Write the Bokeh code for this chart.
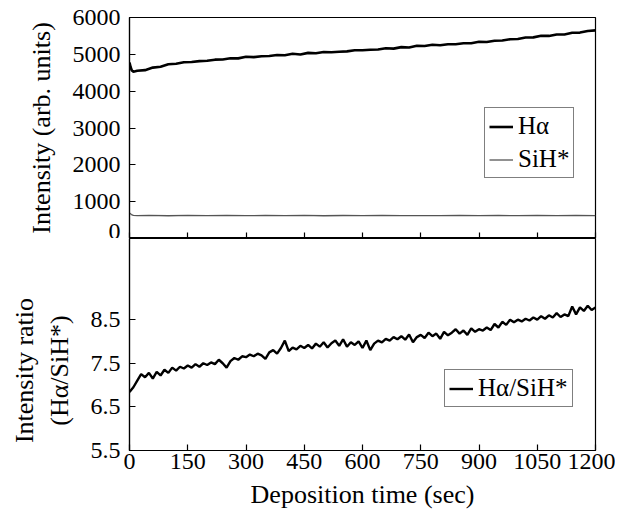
from bokeh.plotting import figure
from bokeh.layouts import column
from bokeh.models import FixedTicker, Range1d, Legend, LegendItem
from bokeh.embed import file_html
from bokeh.resources import INLINE

# ---- data ----
ha_t = [0, 3, 6, 10, 20, 40, 60, 80, 100, 120, 140, 160, 180, 200, 220, 240, 260, 280, 300,
        320, 340, 360, 380, 400, 420, 440, 460, 480, 500, 520, 540, 560, 580, 600, 620, 640,
        660, 680, 700, 720, 740, 760, 780, 800, 820, 840, 860, 880, 900, 920, 940, 960, 980,
        1000, 1020, 1040, 1060, 1080, 1100, 1120, 1140, 1160, 1180, 1200]
ha_v = [4780, 4650, 4560, 4530, 4555, 4570, 4640, 4665, 4730, 4745, 4785, 4790, 4815, 4825,
        4855, 4860, 4895, 4890, 4935, 4925, 4950, 4955, 4980, 4975, 5015, 4995, 5040, 5030,
        5065, 5055, 5070, 5080, 5110, 5110, 5125, 5130, 5165, 5155, 5195, 5185, 5235, 5225,
        5260, 5245, 5275, 5275, 5300, 5300, 5340, 5335, 5370, 5375, 5410, 5415, 5455, 5460,
        5505, 5500, 5540, 5540, 5585, 5590, 5635, 5650]

sih_t = [0, 5, 10, 20, 50, 100, 150, 200, 250, 300, 350, 400, 450, 500, 550, 600, 650, 700,
         750, 800, 850, 900, 950, 1000, 1050, 1100, 1150, 1200]
sih_v = [690, 650, 628, 622, 630, 618, 626, 620, 628, 619, 625, 621, 627, 618, 624, 620, 626,
         619, 623, 621, 627, 619, 624, 620, 626, 621, 624, 622]

ratio_t = list(range(0, 1201, 10))
ratio_v = [6.84, 6.95, 7.10, 7.25, 7.18, 7.28, 7.15, 7.30, 7.22, 7.35, 7.28, 7.40, 7.33, 7.42,
           7.38, 7.45, 7.40, 7.48, 7.42, 7.50, 7.46, 7.52, 7.48, 7.58, 7.50, 7.40, 7.55, 7.62,
           7.58, 7.66, 7.64, 7.70, 7.66, 7.72, 7.68, 7.60, 7.75, 7.80, 7.72, 7.85, 8.02, 7.78,
           7.86, 7.82, 7.90, 7.85, 7.92, 7.84, 7.95, 7.88, 7.98, 7.86, 7.96, 8.02, 7.90, 8.05,
           7.88, 7.98, 7.92, 8.00, 7.85, 8.02, 7.80, 7.95, 8.02, 7.98, 8.06, 8.02, 8.10, 8.05,
           8.12, 8.04, 8.16, 7.98, 8.10, 8.15, 8.08, 8.20, 8.12, 8.18, 8.06, 8.22, 8.14, 8.20,
           8.28, 8.18, 8.25, 8.15, 8.30, 8.22, 8.28, 8.25, 8.32, 8.26, 8.40, 8.32, 8.45, 8.38,
           8.50, 8.44, 8.50, 8.46, 8.52, 8.48, 8.55, 8.50, 8.58, 8.52, 8.60, 8.55, 8.65, 8.56,
           8.62, 8.58, 8.80, 8.62, 8.78, 8.70, 8.82, 8.72, 8.78]

x_ticks = [0, 150, 300, 450, 600, 750, 900, 1050, 1200]
top_ticks = [0, 1000, 2000, 3000, 4000, 5000, 6000]
bot_ticks = [5.5, 6.5, 7.5, 8.5]
bot_max = 10.36  # upper end of the ratio axis (meets the upper panel's 0)

FONT = "Liberation Serif"
TICK_SIZE = "24px"
LABEL_SIZE = "26px"

x_range = Range1d(0, 1200)


def style(p):
    p.outline_line_color = "black"
    p.outline_line_width = 1.2
    p.grid.visible = False
    p.background_fill_color = "white"
    p.border_fill_color = "white"
    for ax in p.axis:
        ax.axis_line_color = "black"
        ax.axis_line_width = 1.2
        ax.major_tick_line_color = "black"
        ax.major_tick_line_width = 1.2
        ax.minor_tick_line_color = None
        ax.major_label_text_font = FONT
        ax.major_label_text_font_size = TICK_SIZE
        ax.major_label_text_color = "black"
        ax.axis_label_text_font = FONT
        ax.axis_label_text_font_size = LABEL_SIZE
        ax.axis_label_text_font_style = "normal"
        ax.axis_label_text_color = "black"
        ax.major_tick_in = 6
        ax.major_tick_out = 0
    for ax in p.yaxis:
        ax.major_label_standoff = 9


# ---- top panel ----
top = figure(frame_width=466, frame_height=221, x_range=x_range, y_range=Range1d(0, 6000),
             output_backend="svg", toolbar_location=None, min_border_left=129,
             min_border_right=20, min_border_top=17, min_border_bottom=0)
style(top)
top.xaxis.ticker = FixedTicker(ticks=x_ticks)
top.xaxis.major_label_text_color = None
top.xaxis.major_label_text_font_size = "0px"
top.xaxis.major_label_standoff = 0
top.yaxis.ticker = FixedTicker(ticks=top_ticks)
top.yaxis.axis_label = "Intensity (arb. units)"
top.yaxis.axis_label_standoff = 14

r_ha = top.line(ha_t, ha_v, line_color="black", line_width=2.6)
r_sih = top.line(sih_t, sih_v, line_color="#555555", line_width=1.3)

leg_top = Legend(items=[LegendItem(label="H\u03b1", renderers=[r_ha]),
                        LegendItem(label="SiH*", renderers=[r_sih])],
                 location=(355, 60))
top.add_layout(leg_top)

# ---- bottom panel ----
bot = figure(frame_width=466, frame_height=212, x_range=x_range, y_range=Range1d(5.5, bot_max),
             output_backend="svg", toolbar_location=None, min_border_left=129,
             min_border_right=20, min_border_top=0, min_border_bottom=52)
style(bot)
bot.xaxis.ticker = FixedTicker(ticks=x_ticks)
bot.xaxis.major_label_standoff = 3
bot.xaxis.axis_label = "Deposition time (sec)"
bot.xaxis.axis_label_standoff = 8
bot.yaxis.ticker = FixedTicker(ticks=bot_ticks)
bot.yaxis.axis_label = "Intensity ratio\u00a0\u00a0\u00a0\u00a0\u00a0\u00a0\u00a0\u00a0\n(H\u03b1/SiH*)\u00a0\u00a0\u00a0\u00a0\u00a0\u00a0\u00a0\u00a0"
bot.yaxis.axis_label_standoff = 14

r_ratio = bot.line(ratio_t, ratio_v, line_color="black", line_width=2.4)
leg_bot = Legend(items=[LegendItem(label="H\u03b1/SiH*", renderers=[r_ratio])],
                 location=(315, 43))
bot.add_layout(leg_bot)

for lg in (leg_top, leg_bot):
    lg.label_text_font = FONT
    lg.label_text_font_size = "25px"
    lg.label_text_color = "black"
    lg.border_line_color = "black"
    lg.border_line_width = 1.2
    lg.background_fill_alpha = 1.0
    lg.glyph_width = 24
    lg.glyph_height = 27
    lg.label_height = 27
    lg.label_standoff = 5
    lg.spacing = 5
    lg.padding = 4
    lg.margin = 0

layout = column(top, bot, spacing=0)
open("out.html", "w").write(file_html(layout, INLINE))
